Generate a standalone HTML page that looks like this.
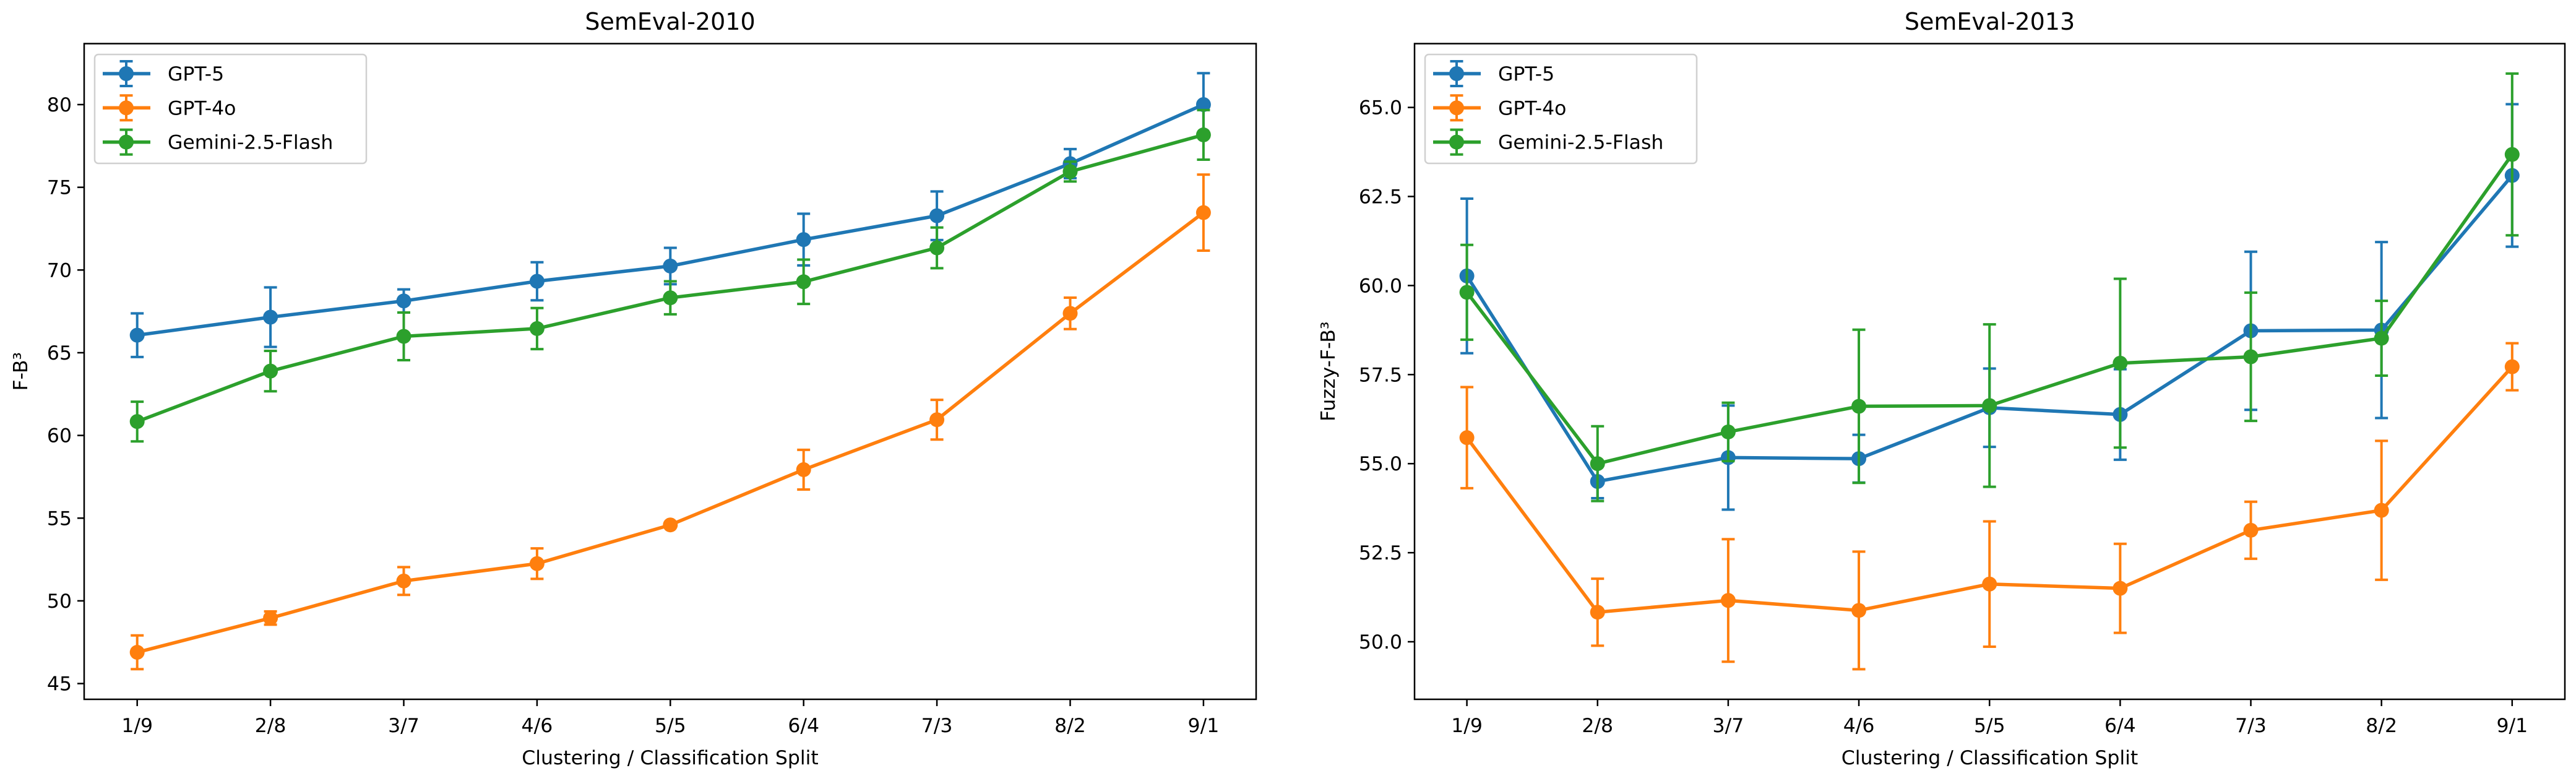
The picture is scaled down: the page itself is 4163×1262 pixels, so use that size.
<!DOCTYPE html>
<html><head><meta charset="utf-8">
<style>
html,body{margin:0;padding:0;background:#fff;}
svg{display:block;font-family:"DejaVu Sans","Liberation Sans",sans-serif;}
</style></head>
<body>
<svg id="fig" width="4163" height="1262" viewBox="0 0 4163 1262" xmlns="http://www.w3.org/2000/svg"></svg>
<script>
const categories = ["1/9","2/8","3/7","4/6","5/5","6/4","7/3","8/2","9/1"];
const seriesNames = ["GPT-5","GPT-4o","Gemini-2.5-Flash"];
const seriesColors = ["#1f77b4","#ff7f0e","#2ca02c"];
// SemEval-2010
const gpt5_2010 = [66.06,67.15,68.13,69.32,70.24,71.84,73.28,76.43,80.0];
const gpt5_2010_err = [1.32,1.8,0.7,1.15,1.1,1.56,1.47,0.88,1.9];
const gpt4o_2010 = [46.89,48.96,51.2,52.25,54.59,57.93,60.95,67.38,73.47];
const gpt4o_2010_err = [1.02,0.4,0.84,0.92,0.12,1.2,1.2,0.95,2.3];
const gemini_2010 = [60.84,63.89,65.99,66.46,68.32,69.29,71.34,75.95,78.17];
const gemini_2010_err = [1.2,1.22,1.44,1.24,1.0,1.34,1.23,0.6,1.5];
const ticks_2010 = [45,50,55,60,65,70,75,80];
const tickLabels_2010 = ["45","50","55","60","65","70","75","80"];
// SemEval-2013
const gpt5_2013 = [60.27,54.5,55.17,55.14,56.57,56.38,58.73,58.75,63.09];
const gpt5_2013_err = [2.17,0.47,1.46,0.67,1.1,1.27,2.22,2.47,2.0];
const gpt4o_2013 = [55.73,50.83,51.16,50.88,51.62,51.5,53.13,53.69,57.72];
const gpt4o_2013_err = [1.42,0.94,1.72,1.65,1.76,1.25,0.8,1.95,0.66];
const gemini_2013 = [59.81,55.0,55.89,56.61,56.63,57.82,58.0,58.52,63.68];
const gemini_2013_err = [1.33,1.05,0.82,2.15,2.28,2.37,1.8,1.05,2.27];
const ticks_2013 = [50.0,52.5,55.0,57.5,60.0,62.5,65.0];
const tickLabels_2013 = ["50.0","52.5","55.0","57.5","60.0","62.5","65.0"];

const NS = "http://www.w3.org/2000/svg";
const fig = document.getElementById("fig");
function mk(tag, attrs, parent){
  const e = document.createElementNS(NS, tag);
  for (const k in attrs) e.setAttribute(k, attrs[k]);
  (parent||fig).appendChild(e);
  return e;
}

function drawPanel(cfg){
  const g = mk("g", {});
  
  
  const L=cfg.left, R=cfg.right, T=70.5, B=1130;
  const xs = i => cfg.x0 + i*cfg.dx;
  const ys = v => cfg.yRef + (cfg.vRef - v)*cfg.ppu;
  // title
  const t = mk("text", {x:(L+R)/2, y:48, "font-size":38, "text-anchor":"middle", fill:"#000"}, g);
  t.textContent = cfg.title;
  
  
  // y ticks
  cfg.ticks.forEach((v,i)=>{
    const y = ys(v);
    const tl = mk("line", {x1:L-11, x2:L, y1:y, y2:y, stroke:"#000", "stroke-width":2.5}, g);
    
    
    const tx = mk("text", {x:L-20, y:y+11, "font-size":31.5, "text-anchor":"end", fill:"#000"}, g);
    tx.textContent = cfg.tickLabels[i];
    
    
  });
  // x ticks
  categories.forEach((c,i)=>{
    const x = xs(i);
    const tl = mk("line", {x1:x, x2:x, y1:B, y2:B+11, stroke:"#000", "stroke-width":2.5}, g);
    
    
    const tx = mk("text", {x:x, y:1183, "font-size":31.5, "text-anchor":"middle", fill:"#000"}, g);
    tx.textContent = c;
    
    
  });
  // x label
  const xl = mk("text", {x:(L+R)/2, y:1235, "font-size":31.5, "text-anchor":"middle", fill:"#000"}, g);
  xl.textContent = "Clustering / Classification Split";
  
  
  const yl = mk("text", {x:0, y:0, "font-size":31.5, "text-anchor":"middle", fill:"#000", transform:`translate(${cfg.ylabelX},${(T+B)/2}) rotate(-90)`}, g);
  yl.textContent = cfg.ylabel;
  
  
  // series
  const clip = mk("clipPath", {id:"clip-"+cfg.name}, g);
  mk("rect", {x:L, y:T, width:R-L, height:B-T}, clip);
  const sg = mk("g", {"clip-path":`url(#clip-${cfg.name})`}, g);
  cfg.series.forEach((s,si)=>{
    const col = seriesColors[si];
    const grp = mk("g", {}, sg);
    
    
    // error bars
    s.vals.forEach((v,i)=>{
      const x = xs(i), e = s.err[i];
      const y1 = ys(v+e), y2 = ys(v-e);
      const eb = mk("path", {d:`M${x},${y1}V${y2}M${x-10.5},${y1}H${x+10.5}M${x-10.5},${y2}H${x+10.5}`, stroke:col, "stroke-width":4, fill:"none"}, grp);
      
      
    });
    const pts = s.vals.map((v,i)=>`${xs(i)},${ys(v)}`).join(" ");
    const pl = mk("polyline", {points:pts, fill:"none", stroke:col, "stroke-width":5.5, "stroke-linejoin":"round"}, grp);
    
    
    s.vals.forEach((v,i)=>{
      const c = mk("circle", {cx:xs(i), cy:ys(v), r:12, fill:col}, grp);
      
      
    });
  });
  // axes frame
  const fr = mk("rect", {x:L, y:T, width:R-L, height:B-T, fill:"none", stroke:"#000", "stroke-width":2.5}, g);
  
  
  // legend
  const lg = mk("g", {}, g);
  
  
  const lx = L+17;
  mk("rect", {x:lx, y:88, width:439, height:176, rx:6, fill:"#fff", "fill-opacity":0.8, stroke:"#d0d0d0", "stroke-width":2.5}, lg);
  seriesNames.forEach((n,si)=>{
    const y = 119 + si*55.3, col = seriesColors[si];
    const hx = lx+13, cx = hx+38;
    const le = mk("g", {}, lg);
    
    
    mk("path", {d:`M${cx},${y-20}V${y+20}M${cx-10.5},${y-20}H${cx+10.5}M${cx-10.5},${y+20}H${cx+10.5}`, stroke:col, "stroke-width":4, fill:"none"}, le);
    mk("line", {x1:hx, x2:hx+77, y1:y, y2:y, stroke:col, "stroke-width":5.5}, le);
    mk("circle", {cx:cx, cy:y, r:12, fill:col}, le);
    const tx = mk("text", {x:hx+105, y:y+11, "font-size":31.5, fill:"#000"}, le);
    tx.textContent = n;
  });
}

drawPanel({name:"semeval-2010-chart", title:"SemEval-2010", left:136, right:2030,
  x0:221.7, dx:215.4, yRef:169, vRef:80, ppu:26.73, ticks:ticks_2010, tickLabels:tickLabels_2010,
  ylabel:"F-B³", ylabelX:44,
  series:[{vals:gpt5_2010,err:gpt5_2010_err},{vals:gpt4o_2010,err:gpt4o_2010_err},{vals:gemini_2010,err:gemini_2010_err}]});
drawPanel({name:"semeval-2013-chart", title:"SemEval-2013", left:2286, right:4145,
  x0:2370.6, dx:211.15, yRef:749.2, vRef:55, ppu:57.56, ticks:ticks_2013, tickLabels:tickLabels_2013,
  ylabel:"Fuzzy-F-B³", ylabelX:2157,
  series:[{vals:gpt5_2013,err:gpt5_2013_err},{vals:gpt4o_2013,err:gpt4o_2013_err},{vals:gemini_2013,err:gemini_2013_err}]});
</script>
</body></html>
